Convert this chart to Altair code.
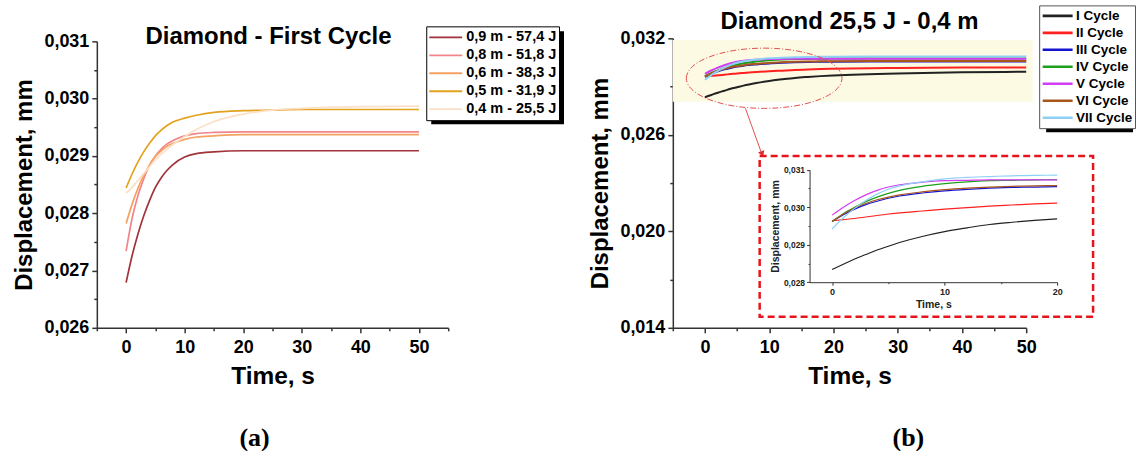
import altair as alt
import pandas as pd

FONT = "Liberation Sans"

# ---------------- Panel (a): first cycle, several drop heights ----------------
drop_labels = ["0,9 m - 57,4 J", "0,8 m - 51,8 J", "0,6 m - 38,3 J",
               "0,5 m - 31,9 J", "0,4 m - 25,5 J"]
drop_colors = ["#A2333B", "#F2858A", "#F4A262", "#E2A21E", "#FBDFC6"]

time_a = [0, 1, 2, 3, 4, 5, 6, 7, 8, 10, 12, 15, 20, 25, 30, 40, 50]
disp_09 = [0.02679, 0.02725, 0.02763, 0.02795, 0.02822, 0.02845, 0.02862, 0.02875,
           0.02885, 0.02898, 0.02904, 0.02907, 0.02909, 0.02909, 0.02909, 0.02909, 0.02909]
disp_08 = [0.02734, 0.02790, 0.02830, 0.02860, 0.02884, 0.02900, 0.02912, 0.02921,
           0.02927, 0.02935, 0.02939, 0.02941, 0.02942, 0.02942, 0.02942, 0.02942, 0.02942]
disp_06 = [0.02782, 0.02815, 0.02843, 0.02866, 0.02884, 0.02899, 0.02909, 0.02917,
           0.02922, 0.02929, 0.02933, 0.02935, 0.02937, 0.02937, 0.02937, 0.02937, 0.02937]
disp_05 = [0.02844, 0.02868, 0.02889, 0.02907, 0.02922, 0.02935, 0.02945, 0.02953,
           0.02959, 0.02966, 0.02971, 0.02976, 0.02979, 0.02980, 0.02981, 0.02981, 0.02981]
disp_04 = [0.02835, 0.02845, 0.02857, 0.02869, 0.02881, 0.02893, 0.02903, 0.02912,
           0.02920, 0.02934, 0.02946, 0.02960, 0.02973, 0.02980, 0.02983, 0.02986, 0.02987]

# ---------------- Panel (b): 25,5 J - 0,4 m, successive cycles ----------------
cycle_labels = ["I Cycle", "II Cycle", "III Cycle", "IV Cycle",
                "V Cycle", "VI Cycle", "VII Cycle"]
cycle_colors = ["#222222", "#FF2020", "#1515D0", "#1E9E1E",
                "#D23CF2", "#A8551E", "#8ECFF5"]

time_b = [0, 1, 2, 3, 4, 5, 6, 8, 10, 12, 14, 16, 18, 20, 30, 40, 50]
cyc_1 = [0.02834, 0.02848, 0.02862, 0.02874, 0.02886, 0.02896, 0.02906, 0.02922, 0.02935,
         0.02945, 0.02954, 0.02960, 0.02965, 0.02969, 0.02982, 0.02989, 0.02992]
cyc_2 = [0.02964, 0.02967, 0.02970, 0.02974, 0.02978, 0.02982, 0.02985, 0.02990, 0.02995,
         0.02999, 0.03003, 0.03006, 0.03009, 0.03011, 0.03016, 0.03018, 0.03019]
cyc_3 = [0.02962, 0.02980, 0.02995, 0.03007, 0.03016, 0.03024, 0.03030, 0.03038, 0.03044,
         0.03048, 0.03051, 0.03053, 0.03054, 0.03055, 0.03056, 0.03056, 0.03056]
cyc_4 = [0.02962, 0.02983, 0.03000, 0.03015, 0.03027, 0.03037, 0.03045, 0.03056, 0.03063,
         0.03068, 0.03071, 0.03072, 0.03073, 0.03074, 0.03075, 0.03075, 0.03075]
cyc_5 = [0.02979, 0.03000, 0.03018, 0.03033, 0.03045, 0.03054, 0.03060, 0.03067, 0.03071,
         0.03072, 0.03073, 0.03073, 0.03073, 0.03073, 0.03073, 0.03073, 0.03073]
cyc_6 = [0.02962, 0.02982, 0.02998, 0.03010, 0.03020, 0.03027, 0.03033, 0.03041, 0.03047,
         0.03051, 0.03054, 0.03056, 0.03057, 0.03058, 0.03059, 0.03059, 0.03059]
cyc_7 = [0.02942, 0.02972, 0.02997, 0.03018, 0.03035, 0.03048, 0.03057, 0.03068, 0.03076,
         0.03080, 0.03082, 0.03084, 0.03085, 0.03086, 0.03087, 0.03087, 0.03087]

# highlighted region of panel (b)
band_time = [-5, 51]
band_disp = [0.02806, 0.0319]

# zoom window of the inset
inset_max_time = 20

# ---------------- tables ----------------
rows = []
for lab, vals in zip(drop_labels, [disp_09, disp_08, disp_06, disp_05, disp_04]):
    for t, v in zip(time_a, vals):
        rows.append({"time": t, "disp": v, "series": lab})
df_a = pd.DataFrame(rows)

rows = []
for lab, vals in zip(cycle_labels, [cyc_1, cyc_2, cyc_3, cyc_4, cyc_5, cyc_6, cyc_7]):
    for t, v in zip(time_b, vals):
        rows.append({"time": t, "disp": v, "cycle": lab})
df_b = pd.DataFrame(rows)

df_band = pd.DataFrame({"time": [band_time[0]], "time_end": [band_time[1]],
                        "disp": [band_disp[0]], "disp_end": [band_disp[1]]})
one = pd.DataFrame({"k": [0]})

H = 290
W_A = 352
W_B = 354


def comma(expr_minor):
    return f"({expr_minor}) ? '' : replace(format(datum.value, '.3f'), '.', ',')"


def main_axis(title, values, minor_test, label_expr, orient):
    bottom = orient == "bottom"
    return alt.Axis(
        title=title, values=values, orient=orient, grid=False,
        labelExpr=label_expr, labelFlush=False, labelOverlap=False,
        labelFont=FONT, labelFontWeight="bold", labelFontSize=18, labelColor="black",
        labelPadding=6 if bottom else 3,
        titleFont=FONT, titleFontWeight="bold", titleFontSize=24.5 if bottom else 24,
        titleColor="black", titlePadding=8 if bottom else 7,
        domainColor="#333333", domainWidth=1.5, tickColor="#333333", tickWidth=1.5,
        tickSize={"condition": {"test": minor_test, "value": 3}, "value": 5},
    )


x_minor = "datum.value % 10 != 0"
x_labels = "datum.value % 10 != 0 ? '' : datum.label"

# ---------------- panel (a) ----------------
xa = alt.X("time:Q", scale=alt.Scale(domain=[-5, 55], nice=False, zero=False),
           axis=main_axis("Time, s", list(range(-5, 56, 5)), x_minor, x_labels, "bottom"))
ya_minor = "round(datum.value * 2000) % 2 != 0"
ya = alt.Y("disp:Q", scale=alt.Scale(domain=[0.026, 0.031], range=[H, 3], nice=False, zero=False),
           axis=main_axis("Displacement, mm",
                          [0.026, 0.0265, 0.027, 0.0275, 0.028, 0.0285, 0.029,
                           0.0295, 0.030, 0.0305, 0.031],
                          ya_minor, comma(ya_minor), "left"))

legend_a = alt.Legend(
    title=None, orient="none", legendX=330, legendY=-12,
    symbolType="stroke", symbolSize=1089, symbolStrokeWidth=1.8, clipHeight=18,
    labelFont=FONT, labelFontWeight="bold", labelFontSize=14.5, labelColor="black",
    labelOffset=3, padding=2, rowPadding=0, strokeColor="black", fillColor="white",
)

lines_a = alt.Chart(df_a).mark_line(strokeWidth=1.7, interpolate="monotone").encode(
    x=xa, y=ya,
    color=alt.Color("series:N", sort=drop_labels,
                    scale=alt.Scale(domain=drop_labels, range=drop_colors), legend=legend_a),
)

shadow_a = alt.Chart(one).mark_rect(color="black").encode(
    x=alt.value(335), x2=alt.value(468), y=alt.value(-7), y2=alt.value(86))

title_a = alt.Chart(pd.DataFrame({"t": ["Diamond - First Cycle"]})).mark_text(
    font=FONT, fontWeight="bold", fontSize=24, align="center", baseline="alphabetic",
    color="black").encode(text="t:N", x=alt.value(172), y=alt.value(6))

tag_a = alt.Chart(pd.DataFrame({"t": ["(a)"]})).mark_text(
    font="Liberation Serif", fontWeight="bold", fontSize=26, align="center",
    baseline="alphabetic", color="black").encode(text="t:N", x=alt.value(158), y=alt.value(408))

panel_a = alt.layer(shadow_a, lines_a, title_a, tag_a).properties(width=W_A, height=H)

# ---------------- panel (b) ----------------
xb = alt.X("time:Q", scale=alt.Scale(domain=[-5, 50], nice=False, zero=False),
           axis=main_axis("Time, s", list(range(-5, 51, 5)), x_minor, x_labels, "bottom"))
yb_minor = "round((datum.value - 0.014) / 0.003) % 2 != 0"
yb = alt.Y("disp:Q", scale=alt.Scale(domain=[0.014, 0.032], nice=False, zero=False),
           axis=main_axis("Displacement, mm",
                          [0.014, 0.017, 0.020, 0.023, 0.026, 0.029, 0.032],
                          yb_minor, comma(yb_minor), "left"))

color_scale_b = alt.Scale(domain=cycle_labels, range=cycle_colors)
legend_b = alt.Legend(
    title=None, orient="none", legendX=367, legendY=-33,
    symbolType="stroke", symbolSize=900, symbolStrokeWidth=2.6, clipHeight=17,
    labelFont=FONT, labelFontWeight="bold", labelFontSize=13.5, labelColor="black",
    labelOffset=2, padding=2, rowPadding=0, strokeColor="#555555", fillColor="white",
)

band = alt.Chart(df_band).mark_rect(color="#FCFAE3").encode(
    x=xb, x2="time_end:Q", y=yb, y2="disp_end:Q")

lines_b = alt.Chart(df_b).mark_line(strokeWidth=2, interpolate="monotone").encode(
    x=xb, y=yb,
    color=alt.Color("cycle:N", sort=cycle_labels, scale=color_scale_b, legend=legend_b),
)

ELLIPSE = ("M-1,0C-1,-0.2138,-0.5523,-0.387,0,-0.387C0.5523,-0.387,1,-0.2138,1,0"
           "C1,0.2138,0.5523,0.387,0,0.387C-0.5523,0.387,-1,0.2138,-1,0Z")
ellipse = alt.Chart(one).mark_point(
    shape=ELLIPSE, size=24300, filled=False, opacity=1, stroke="#E05050",
    strokeWidth=1, strokeDash=[6, 2, 1, 2]).encode(x=alt.value(91.5), y=alt.value(40))

arrow = alt.Chart(one).mark_rule(color="#E05050", strokeWidth=1).encode(
    x=alt.value(72.7), y=alt.value(70), x2=alt.value(88.5), y2=alt.value(114))
arrow_head = alt.Chart(one).mark_point(
    shape="triangle-up", filled=True, opacity=1, color="#E03030", size=45, angle=160).encode(
    x=alt.value(89.5), y=alt.value(116))

shadow_b = alt.Chart(one).mark_rect(color="black").encode(
    x=alt.value(374), x2=alt.value(461), y=alt.value(80), y2=alt.value(94))

title_b = alt.Chart(pd.DataFrame({"t": ["Diamond 25,5 J - 0,4 m"]})).mark_text(
    font=FONT, fontWeight="bold", fontSize=24, align="center", baseline="alphabetic",
    color="black").encode(text="t:N", x=alt.value(177), y=alt.value(-9))

tag_b = alt.Chart(pd.DataFrame({"t": ["(b)"]})).mark_text(
    font="Liberation Serif", fontWeight="bold", fontSize=26, align="center",
    baseline="alphabetic", color="black").encode(text="t:N", x=alt.value(236), y=alt.value(408))

main_b = alt.layer(band, shadow_b, lines_b, ellipse, arrow, arrow_head, title_b, tag_b)

# inset: zoom on the first 20 s
box = alt.Chart(one).mark_rect(fill="white", stroke="#E8141C", strokeWidth=2.5,
                               strokeDash=[7, 4]).encode(
    x=alt.value(87), x2=alt.value(421), y=alt.value(118), y2=alt.value(279))


def inset_axis(title, values, minor_test, label_expr, orient, offset, lsize):
    return alt.Axis(
        title=title, values=values, orient=orient, offset=offset, grid=False, zindex=1,
        labelExpr=label_expr, labelFlush=False, labelOverlap=False,
        labelFont=FONT, labelFontWeight="bold", labelFontSize=lsize, labelColor="#222222",
        labelPadding=2,
        titleFont=FONT, titleFontWeight="bold", titleFontSize=10.5, titleColor="#222222",
        titlePadding=3,
        domainColor="#333333", domainWidth=1, tickColor="#333333", tickWidth=1,
        tickSize={"condition": {"test": minor_test, "value": 1.5}, "value": 3},
    )


xi_minor = "datum.value % 10 != 0"
xi = alt.X("time:Q", scale=alt.Scale(domain=[-2, inset_max_time], range=[137, 385],
                                     nice=False, zero=False),
           axis=inset_axis("Time, s", [0, 5, 10, 15, 20], xi_minor, x_labels,
                           "bottom", -45.7, 9))
yi_minor = "round(datum.value * 2000) % 2 != 0"
yi = alt.Y("disp:Q", scale=alt.Scale(domain=[0.028, 0.031], range=[244.3, 131.7],
                                     nice=False, zero=False),
           axis=inset_axis("Displacement, mm",
                           [0.028, 0.0285, 0.029, 0.0295, 0.030, 0.0305, 0.031],
                           yi_minor, comma(yi_minor), "left", -137, 8.5))

inset_lines = alt.Chart(df_b).transform_filter(
    alt.datum.time <= inset_max_time).mark_line(strokeWidth=1.2, interpolate="monotone").encode(
    x=xi, y=yi,
    color=alt.Color("cycle:N", sort=cycle_labels, scale=color_scale_b, legend=None),
)

inset_b = alt.layer(box, inset_lines)

panel_b = alt.layer(main_b, inset_b).resolve_scale(
    x="independent", y="independent").properties(width=W_B, height=H)

chart = alt.hconcat(panel_a, panel_b, spacing=225, bounds="flush").resolve_scale(
    color="independent").properties(
    padding={"left": 12, "top": 4, "right": 0, "bottom": 0}, background="white"
).configure_view(stroke=None)

chart.save("out.html", embed_options={"renderer": "svg", "actions": False})
